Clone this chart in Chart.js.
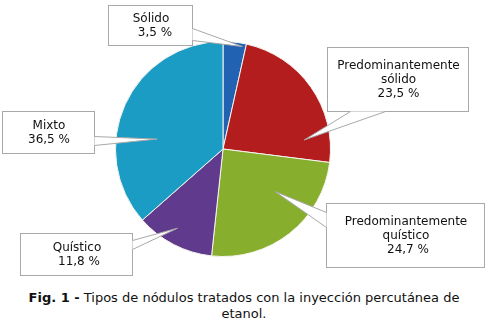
<!DOCTYPE html>
<html>
<head>
<meta charset="utf-8">
<script src="https://cdn.jsdelivr.net/npm/chart.js@4"></script>
<style>
  body { margin: 0; background: #fff; }
  #wrap { position: relative; width: 488px; height: 325px; }
  #nodulos { position: absolute; left: 0; top: 0; }
  #caption {
    position: absolute; left: 0; top: 290px; width: 488px;
    font: 13px "DejaVu Sans", Verdana, sans-serif; line-height: 16px;
    color: #111; text-align: center;
  }
</style>
</head>
<body>
<div id="wrap">
  <canvas id="nodulos" width="488" height="285"></canvas>
  <div id="caption"><b>Fig. 1 -</b> Tipos de nódulos tratados con la inyección percutánea de<br>etanol.</div>
</div>
<script>
// Tipos de nódulo y su porcentaje
const categories = ['Sólido', 'Predominantemente sólido', 'Predominantemente quístico', 'Quístico', 'Mixto'];
const labelLines = [['Sólido'], ['Predominantemente', 'sólido'], ['Predominantemente', 'quístico'], ['Quístico'], ['Mixto']];
const percentages = [3.5, 23.5, 24.7, 11.8, 36.5];
const sliceColors = ['#2162b3', '#b41d1d', '#87ae2d', '#5f3a8d', '#1b9cc5'];

// Callout boxes: box rect, base of the pointer on the box, and where the tip sits in the slice
const callouts = [
    { box: [108, 5, 192, 45], base: [[192, 28], [192, 40]], t: 0.85, rf: 0.97, indent: [0, 4] },
    { box: [327, 47, 468, 111], base: [[350, 111], [385, 111]], t: 0.84, rf: 0.76, indent: [0, 0, 0] },
    { box: [326, 203, 484, 267], base: [[326, 212], [326, 227]], t: 0.36, rf: 0.625, indent: [0, 0, 2] },
    { box: [20, 233, 132, 275], base: [[132, 240], [132, 249]], t: 0.56, rf: 0.85, indent: [0, 2] },
    { box: [2, 111, 94, 153], base: [[94, 136], [94, 145]], t: 0.38, rf: 0.62, indent: [0, 0] }
];

const fmt = v => v.toFixed(1).replace('.', ',') + ' %';

function wedgePath(ctx, c, tip, close) {
    ctx.beginPath();
    ctx.moveTo(c.base[0][0] + 0.5, c.base[0][1] + 0.5);
    ctx.lineTo(tip[0], tip[1]);
    ctx.lineTo(c.base[1][0] + 0.5, c.base[1][1] + 0.5);
    if (close) ctx.closePath();
}

const calloutPlugin = {
    id: 'callouts',
    afterDatasetsDraw(chart) {
        const ctx = chart.ctx;
        const arcs = chart.getDatasetMeta(0).data;
        ctx.save();
        ctx.lineWidth = 1;
        ctx.strokeStyle = '#a8a8a8';
        callouts.forEach((c, i) => {
            const a = arcs[i].getProps(['x', 'y', 'startAngle', 'endAngle', 'outerRadius'], true);
            const ang = a.startAngle + (a.endAngle - a.startAngle) * c.t;
            const tip = [a.x + Math.cos(ang) * a.outerRadius * c.rf, a.y + Math.sin(ang) * a.outerRadius * c.rf];
            const [x1, y1, x2, y2] = c.box;

            ctx.fillStyle = '#fff';
            // box
            ctx.fillRect(x1, y1, x2 - x1, y2 - y1);
            ctx.strokeRect(x1 + 0.5, y1 + 0.5, x2 - x1, y2 - y1);

            // pointer wedge, covering the box edge where it joins
            wedgePath(ctx, c, tip, true);
            ctx.fill();
            wedgePath(ctx, c, tip, false);
            ctx.stroke();

            // text
            const lines = labelLines[i].concat([fmt(percentages[i])]);
            const lh = 14;
            const cx = (x1 + x2) / 2 + 1;
            const cy = (y1 + y2) / 2 + 1;
            ctx.fillStyle = '#111';
            ctx.font = '12px "DejaVu Sans", Verdana, sans-serif';
            ctx.textAlign = 'center';
            ctx.textBaseline = 'middle';
            lines.forEach((ln, k) => {
                ctx.fillText(ln, cx + (c.indent[k] || 0), cy + (k - (lines.length - 1) / 2) * lh);
            });
        });
        ctx.restore();
    }
};

new Chart(document.getElementById('nodulos'), {
    type: 'pie',
    data: {
        labels: categories,
        datasets: [{
            data: percentages,
            backgroundColor: sliceColors,
            borderColor: '#f4f4ee',
            borderWidth: 1
        }]
    },
    options: {
        responsive: false,
        animation: false,
        devicePixelRatio: 1,
        layout: { padding: { top: 41, bottom: 28, left: 115, right: 157 } },
        plugins: {
            legend: { display: false },
            tooltip: { enabled: false }
        }
    },
    plugins: [calloutPlugin]
});
</script>
</body>
</html>
